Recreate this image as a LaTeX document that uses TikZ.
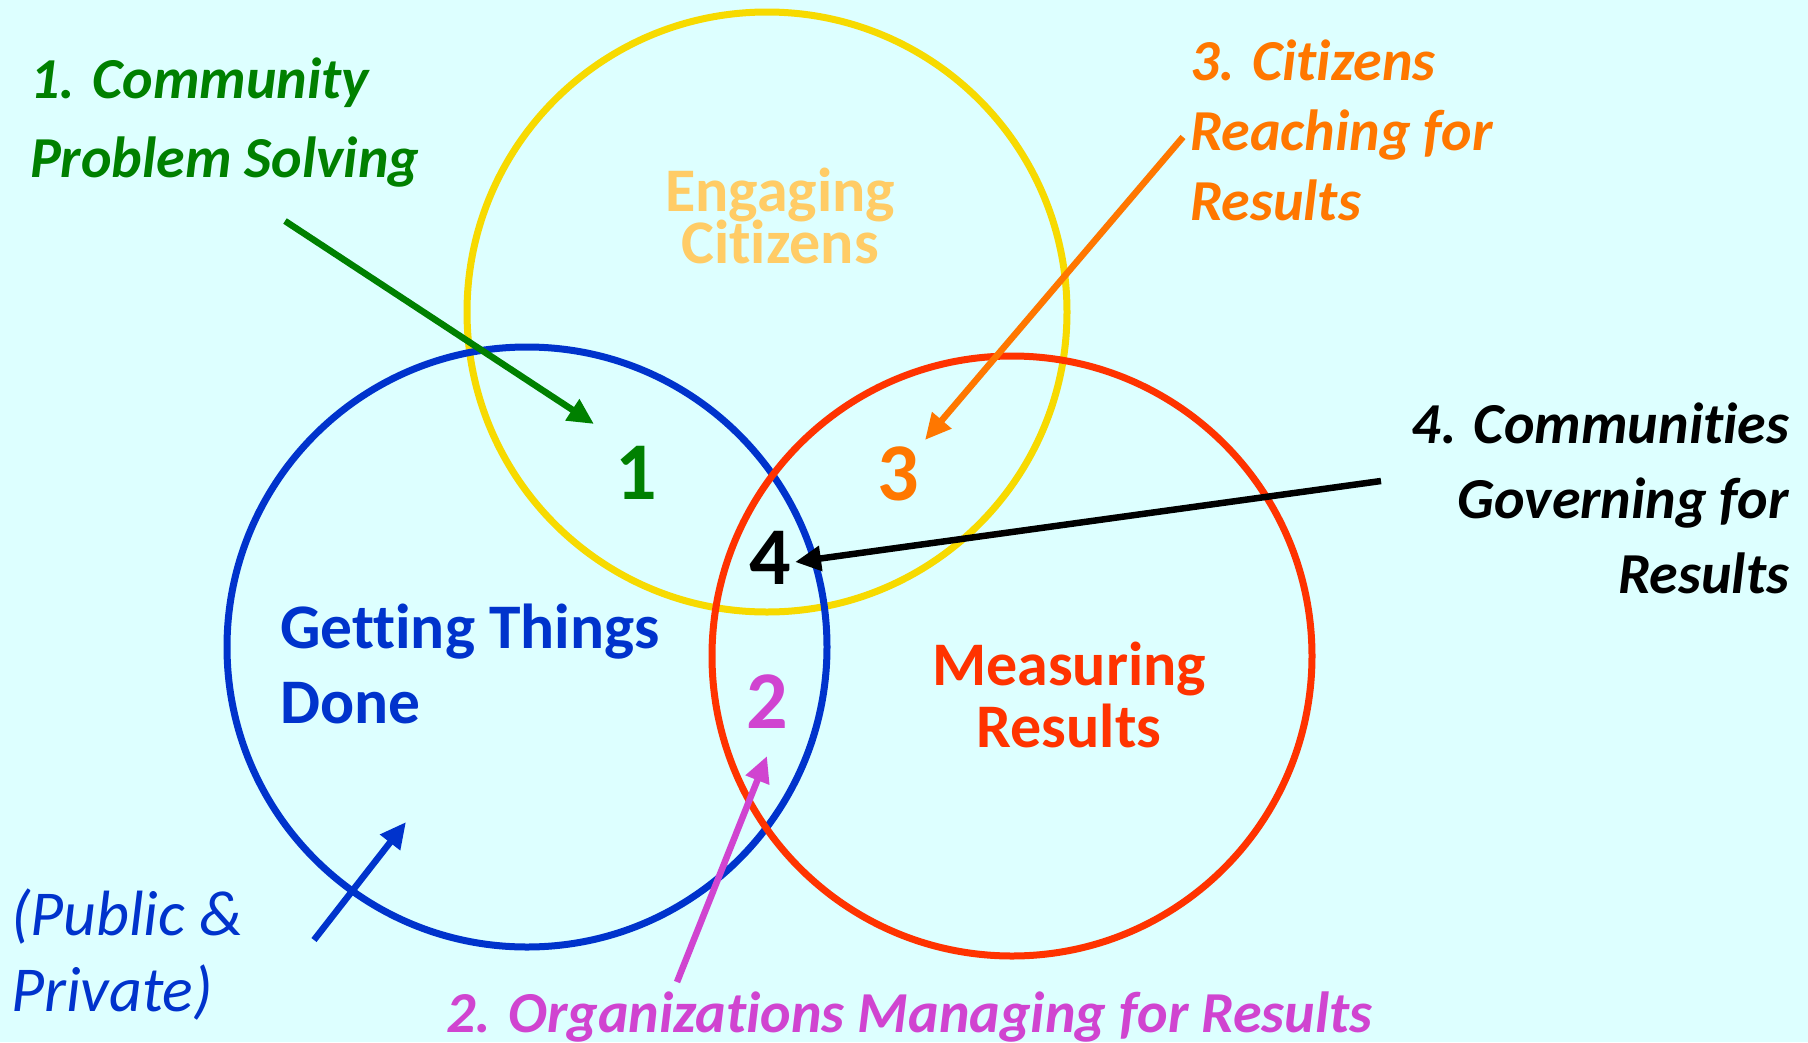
\documentclass[tikz,border=0pt]{standalone}
\usepackage{fontspec}
\setmainfont{Carlito}[Ligatures=NoCommon,RawFeature={-liga;-clig;-calt;-dlig}]
\usetikzlibrary{arrows.meta}
\definecolor{bgc}{RGB}{221,255,255}
\definecolor{cyel}{RGB}{247,218,0}
\definecolor{cblue}{RGB}{0,51,204}
\definecolor{cred}{RGB}{255,51,0}
\definecolor{cgreen}{RGB}{0,128,0}
\definecolor{corange}{RGB}{255,119,0}
\definecolor{clight}{RGB}{255,204,102}
\definecolor{cmag}{RGB}{208,68,208}
\newcommand{\tightlines}{\lineskiplimit-200pt\relax}
\tikzset{
  ring/.style={line width=7pt},
  pointer/.style={line width=6.5pt, -{Triangle[length=26pt,width=24pt]}},
  txt/.style={inner sep=0pt, outer sep=0pt},
  biglab/.style 2 args={txt, font={\fontsize{#1}{#2}\selectfont\bfseries\tightlines}},
  sidelab/.style={txt, font={\fontsize{58}{#1}\selectfont\bfseries\itshape\tightlines}},
  numlab/.style={txt, font={\fontsize{82}{90}\selectfont\bfseries}},
}
\begin{document}
\begin{tikzpicture}[x=1pt,y=-1pt]
\fill[bgc] (0,0) rectangle (1808,1042);
\useasboundingbox (0,0) rectangle (1808,1042);
% circles
\draw[ring, cyel] (767,312) circle (300);
\draw[ring, cblue] (527,647) circle (300);
\draw[ring, cred] (1012,656) circle (300);
% circle titles (anchor = baseline of last line)
\node[biglab={62}{52}, text=clight, align=center, anchor=base] (eng) at (780,263) {Engaging\\Citizens};
\node[biglab={63.5}{75}, text=cblue, align=left, anchor=base west] (get) at (280,723) {Getting Things\\Done};
\node[biglab={62}{62}, text=cred, align=center, anchor=base] (mea) at (1069,747) {Measuring\\Results};
% numbers
\node[numlab, text=cgreen] (n1) at (636,473) {1};
\node[numlab, text=cmag] (n2) at (767,702) {2};
\node[numlab, text=corange] (n3) at (898,474) {3};
\node[numlab, text=black] (n4) at (770,558) {4};
% side labels
\node[sidelab=79, text=cgreen, align=left, anchor=base west] (l1) at (30,177) {1. Community\\Problem Solving};
\node[sidelab=70, text=corange, align=left, anchor=base west] (l3) at (1190,220) {3. Citizens\\Reaching for\\Results};
\node[sidelab=75, text=black, align=right, anchor=base east] (l4) at (1789,593) {4. Communities\\Governing for\\Results};
\node[sidelab=70, text=cmag, align=left, anchor=base west] (l2) at (446,1032) {2. Organizations Managing for Results};
\node[txt, font={\fontsize{64}{76}\selectfont\itshape\tightlines}, text=cblue, align=left, anchor=base west] (pp) at (11,1011) {(Public \&\\Private)};
% arrows
\coordinate (g0) at (285,221); \coordinate (g1) at (594,424);
\coordinate (o0) at (1183,137); \coordinate (o1) at (925,440);
\coordinate (k0) at (1381,481); \coordinate (k1) at (795,562);
\coordinate (m0) at (677,982); \coordinate (m1) at (767,756);
\coordinate (b0) at (314,940); \coordinate (b1) at (406,822);
\draw[pointer, cgreen] (g0) -- (g1);
\draw[pointer, corange] (o0) -- (o1);
\draw[pointer, black] (k0) -- (k1);
\draw[pointer, cmag] (m0) -- (m1);
\draw[pointer, cblue] (b0) -- (b1);
\end{tikzpicture}
\end{document}
